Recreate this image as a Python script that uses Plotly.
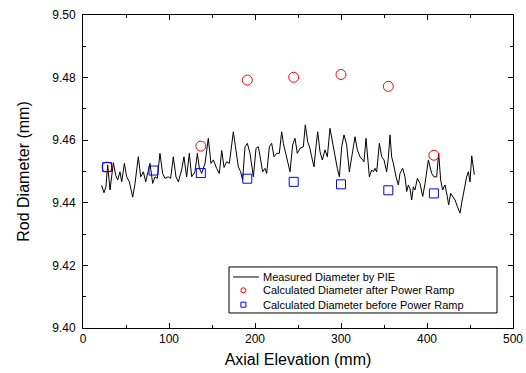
import plotly.graph_objects as go

# Measured diameter by PIE (axial elevation mm, diameter mm)
meas_x = [21.7, 24.4, 26.7, 28.7, 31.4, 35.3, 38.0, 40.3, 43.0, 45.0, 48.1, 50.8, 53.9, 57.8, 60.5,
          64.3, 67.1, 70.2, 72.9, 76.0, 77.9, 81.0, 83.7, 86.4, 89.5, 92.6, 95.3, 99.2, 101.9, 105.0,
          108.1, 110.9, 114.7, 117.4, 120.5, 123.6, 126.4, 130.2, 133.0, 135.3, 138.0, 141.9, 145.7,
          148.8, 151.6, 155.4, 158.5, 161.3, 164.0, 167.1, 170.2, 174.8, 177.9, 180.6, 183.3, 185.6,
          188.4, 191.1, 194.2, 196.1, 198.1, 201.2, 203.9, 206.6, 208.9, 211.6, 213.6, 216.7, 219.4,
          222.1, 225.2, 228.3, 231.0, 233.0, 236.8, 240.7, 243.8, 246.5, 249.2, 252.3, 256.2, 258.5,
          261.2, 263.9, 265.9, 268.6, 270.9, 272.9, 275.6, 278.3, 281.4, 284.1, 287.2, 290.3, 293.0,
          295.7, 298.1, 300.8, 303.5, 306.6, 309.7, 312.4, 316.3, 319.0, 322.1, 325.2, 326.7, 329.1,
          330.6, 333.0, 335.7, 337.6, 339.5, 341.5, 344.6, 347.3, 350.0, 353.1, 355.0, 357.0, 358.9,
          360.9, 364.0, 366.7, 368.6, 371.7, 374.4, 376.4, 378.3, 380.2, 382.2, 384.1, 386.0, 388.8,
          391.9, 395.0, 397.7, 399.6, 401.6, 403.5, 405.4, 408.1, 411.2, 413.6, 415.9, 418.2, 420.9,
          423.6, 425.2, 427.5, 429.8, 432.6, 435.3, 438.4, 440.3, 443.0, 446.1, 448.1, 450.0, 452.0,
          455.0]
meas_y = [9.4456, 9.4432, 9.4451, 9.4521, 9.4441, 9.4528, 9.4488, 9.4473, 9.4499, 9.4467, 9.4526,
          9.4483, 9.4467, 9.4418, 9.4462, 9.4547, 9.4483, 9.4499, 9.4467, 9.4510, 9.4526, 9.4462,
          9.4483, 9.4478, 9.4558, 9.4494, 9.4478, 9.4483, 9.4478, 9.4547, 9.4483, 9.4467, 9.4505,
          9.4547, 9.4483, 9.4558, 9.4483, 9.4499, 9.4558, 9.4510, 9.4494, 9.4526, 9.4606, 9.4526,
          9.4537, 9.4510, 9.4494, 9.4567, 9.4513, 9.4531, 9.4526, 9.4627, 9.4558, 9.4515, 9.4499,
          9.4473, 9.4579, 9.4590, 9.4558, 9.4521, 9.4483, 9.4574, 9.4579, 9.4537, 9.4499, 9.4510,
          9.4494, 9.4579, 9.4590, 9.4547, 9.4558, 9.4558, 9.4627, 9.4590, 9.4547, 9.4499, 9.4585,
          9.4606, 9.4558, 9.4574, 9.4579, 9.4649, 9.4596, 9.4574, 9.4547, 9.4515, 9.4579, 9.4627,
          9.4563, 9.4537, 9.4569, 9.4547, 9.4638, 9.4590, 9.4547, 9.4510, 9.4483, 9.4579, 9.4617,
          9.4585, 9.4499, 9.4547, 9.4611, 9.4569, 9.4547, 9.4537, 9.4531, 9.4606, 9.4547, 9.4483,
          9.4505, 9.4499, 9.4510, 9.4499, 9.4590, 9.4547, 9.4537, 9.4499, 9.4542, 9.4617, 9.4547,
          9.4526, 9.4483, 9.4457, 9.4494, 9.4510, 9.4483, 9.4436, 9.4457, 9.4446, 9.4409, 9.4451,
          9.4441, 9.4478, 9.4462, 9.4420, 9.4462, 9.4494, 9.4537, 9.4515, 9.4494, 9.4483, 9.4483,
          9.4558, 9.4473, 9.4441, 9.4457, 9.4420, 9.4393, 9.4430, 9.4420, 9.4409, 9.4388, 9.4367,
          9.4399, 9.4441, 9.4483, 9.4499, 9.4467, 9.4550, 9.4490]

# Calculated diameter after power ramp
after_x = [28, 137, 191, 245, 300, 355, 408]
after_y = [9.4514, 9.4581, 9.4792, 9.4801, 9.4810, 9.4772, 9.4552]

# Calculated diameter before power ramp
before_x = [28, 82, 137, 191, 245, 300, 355, 408]
before_y = [9.4514, 9.4503, 9.4495, 9.4477, 9.4467, 9.4459, 9.4440, 9.4430]

x_ticks = [0, 100, 200, 300, 400, 500]
y_ticks = [9.40, 9.42, 9.44, 9.46, 9.48, 9.50]

series_names = ["Measured Diameter by PIE",
                "Calculated Diameter after Power Ramp",
                "Calculated Diameter before Power Ramp"]

FONT = "Liberation Sans, Arial, sans-serif"

fig = go.Figure()
fig.add_trace(go.Scatter(x=meas_x, y=meas_y, mode="lines",
                         line=dict(color="black", width=1),
                         name=series_names[0]))
fig.add_trace(go.Scatter(x=after_x, y=after_y, mode="markers",
                         marker=dict(symbol="circle-open", size=10, color="red",
                                     line=dict(width=1, color="red")),
                         name=series_names[1]))
fig.add_trace(go.Scatter(x=before_x, y=before_y, mode="markers",
                         marker=dict(symbol="square-open", size=9, color="blue",
                                     line=dict(width=1, color="blue")),
                         name=series_names[2]))

axis_common = dict(showgrid=False, zeroline=False, showline=True, linecolor="black",
                   linewidth=1, mirror="allticks", ticks="inside", ticklen=5,
                   tickcolor="black", tickwidth=1, automargin=False,
                   tickfont=dict(family=FONT, size=12, color="black"))

fig.update_xaxes(range=[0, 500], tickvals=x_ticks, ticktext=[str(v) for v in x_ticks],
                 minor=dict(dtick=50, ticks="inside", ticklen=3, tickcolor="black"),
                 title=dict(text="Axial Elevation (mm)", font=dict(family=FONT, size=16, color="black"),
                            standoff=8),
                 **axis_common)
fig.update_yaxes(range=[9.40, 9.50], tickvals=y_ticks, ticktext=[f"{v:.2f}" for v in y_ticks],
                 minor=dict(dtick=0.01, ticks="inside", ticklen=3, tickcolor="black"),
                 title=dict(text="Rod Diameter (mm)", font=dict(family=FONT, size=16, color="black"),
                            standoff=18),
                 ticklabelstandoff=4,
                 **axis_common)

# Custom compact legend (paper coordinates)
lg_x0, lg_x1, lg_y0, lg_y1 = 0.3395, 0.9628, 0.048, 0.195
row_y = [0.163, 0.1205, 0.0745]
sym_x0, sym_x1, sym_xc, txt_x = 0.349, 0.409, 0.373, 0.414
dx, dy = 2.5 / 430, 2.5 / 313

shapes = [
    dict(type="rect", xref="paper", yref="paper", x0=lg_x0, x1=lg_x1, y0=lg_y0, y1=lg_y1,
         line=dict(color="black", width=1), fillcolor="white", layer="above"),
    dict(type="line", xref="paper", yref="paper", x0=sym_x0, x1=sym_x1, y0=row_y[0], y1=row_y[0],
         line=dict(color="black", width=1), layer="above"),
    dict(type="circle", xref="paper", yref="paper", x0=sym_xc - dx, x1=sym_xc + dx,
         y0=row_y[1] - dy, y1=row_y[1] + dy, line=dict(color="red", width=1), layer="above"),
    dict(type="rect", xref="paper", yref="paper", x0=sym_xc - dx, x1=sym_xc + dx,
         y0=row_y[2] - dy, y1=row_y[2] + dy, line=dict(color="blue", width=1), layer="above"),
]
annotations = [
    dict(text=name, xref="paper", yref="paper", x=txt_x, y=yy, xanchor="left", yanchor="middle",
         showarrow=False, font=dict(family=FONT, size=11, color="black"))
    for name, yy in zip(series_names, row_y)
]

fig.update_layout(
    width=526, height=373,
    margin=dict(l=83, r=13, t=15, b=45),
    plot_bgcolor="white", paper_bgcolor="white",
    font=dict(family=FONT, color="black"),
    showlegend=False,
    shapes=shapes,
    annotations=annotations,
)

# Remove the default 8px page margin so the figure fills the window exactly.
fig.write_html("out.html",
               config={"displayModeBar": False},
               post_script="document.body.style.margin='0';document.body.style.overflow='hidden';")
